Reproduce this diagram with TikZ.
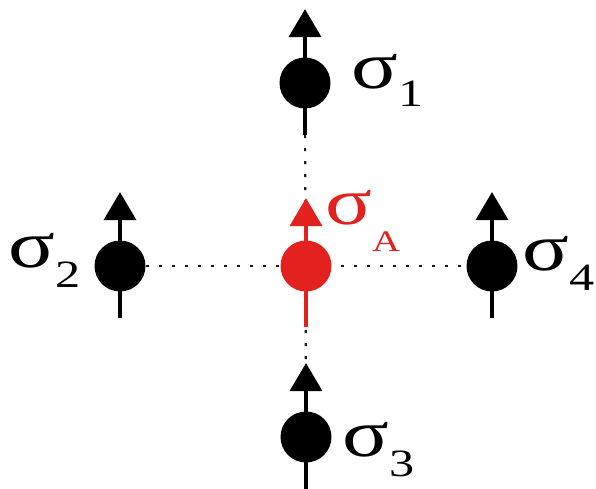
\documentclass[tikz,border=0pt]{standalone}
\usepackage{fontspec}
\setmainfont{Liberation Serif}
\usepackage{tikz}
\usetikzlibrary{calc,arrows.meta}
\definecolor{SpinRed}{HTML}{E3211F}
\definecolor{SpinDot}{HTML}{1A1A1A}

% sigma with a lowered index, drawn a bit wide
\newcommand{\siglab}[3]{\scalebox{1.3}[1]{σ\raisebox{-#3}{\fontsize{#2}{#2}\selectfont #1}}}

\tikzset{
  spin/.style={circle,fill=black,inner sep=0pt,minimum size=1.02cm},
  stem/.style={line width=2.8pt,-{Triangle[length=16pt,width=18pt]}},
  bond/.style={SpinDot,line width=1.2pt,dash pattern=on 1.8pt off 5.6pt},
  lab/.style={anchor=base west,inner sep=0pt,font=\fontsize{38}{38}\selectfont}
}

\begin{document}
\begin{tikzpicture}[x=0.02cm,y=-0.02cm]
  \useasboundingbox (0,0) rectangle (596,489);
  % site centres (pixel grid, y down)
  \coordinate (c1) at (305,83);
  \coordinate (c2) at (120,266);
  \coordinate (c3) at (306,437);
  \coordinate (c4) at (492,266);
  \coordinate (cA) at (306,266);
  % bonds to the neighbours
  \draw[bond] (c2) -- (c4);
  \draw[bond] (c1) -- (c3);
  % the four neighbour spins
  \foreach \n in {1,2,3,4}{
    \coordinate (t\n) at ($(c\n)+(0,-74)$);
    \coordinate (b\n) at ($(c\n)+(0,52)$);
    \draw[stem] (b\n) -- (t\n);
    \node[spin] (s\n) at (c\n) {};
  }
  % central spin
  \coordinate (tA) at ($(cA)+(0,-68)$);
  \coordinate (bA) at ($(cA)+(0,61)$);
  \draw[stem,SpinRed] (bA) -- (tA);
  \node[spin,fill=SpinRed] (sA) at (cA) {};
  % labels
  \node[lab] (l1) at (351,89) {\siglab{1}{22}{10pt}};
  \node[lab] (l2) at (8,268) {\siglab{2}{22}{11pt}};
  \node[lab] (l3) at (342,457) {\siglab{3}{22}{11pt}};
  \node[lab] (l4) at (522,271) {\siglab{4}{22}{11pt}};
  \node[lab,text=SpinRed] (lA) at (325,225) {\siglab{A}{17}{15pt}};
\end{tikzpicture}
\end{document}
